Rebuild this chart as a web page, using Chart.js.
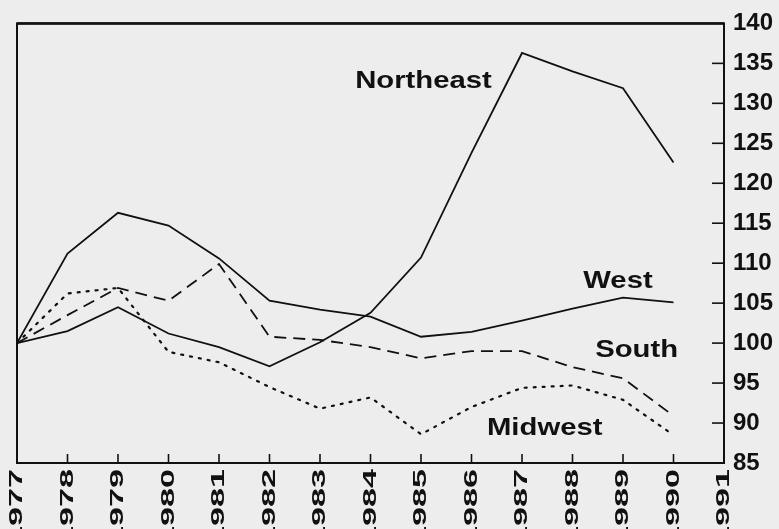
<!DOCTYPE html>
<html>
<head>
<meta charset="utf-8">
<script src="https://cdn.jsdelivr.net/npm/chart.js@4.4.1/dist/chart.umd.min.js"></script>
<style>
  html, body { margin: 0; padding: 0; background: #ededed; overflow: hidden; }
  #c { display: block; }
</style>
</head>
<body>
<canvas id="c" width="779" height="529"></canvas>
<script>
// ---- data ----
const years = [1977, 1978, 1979, 1980, 1981, 1982, 1983, 1984, 1985, 1986, 1987, 1988, 1989, 1990];
const northeast = [100, 101.5, 104.5, 101.2, 99.5, 97.1, 100.1, 103.8, 110.7, 123.8, 136.3, 134.0, 131.9, 122.6];
const west      = [100, 111.2, 116.3, 114.7, 110.6, 105.3, 104.2, 103.3, 100.8, 101.4, 102.8, 104.3, 105.7, 105.1];
const south     = [100, 103.5, 106.9, 105.3, 109.9, 100.8, 100.4, 99.5, 98.1, 99.0, 99.0, 97.0, 95.6, 90.9];
const midwest   = [100, 106.2, 106.9, 98.9, 97.6, 94.5, 91.8, 93.2, 88.6, 92.0, 94.4, 94.7, 92.9, 88.5];
const seriesNames = ["Northeast", "West", "South", "Midwest"];
const xMin = 1977, xMax = 1991;
const yMin = 85, yMax = 140, yStep = 5;
// label anchor points (data coordinates)
const labelYears  = [1985.05, 1988.9, 1989.27, 1987.45];
const labelValues = [131.9, 106.9, 98.2, 88.5];

const pts = arr => arr.map((v, i) => ({ x: years[i], y: v }));

const INK = '#111';

const frame = {
  id: 'frame',
  afterDatasetsDraw(chart) {
    const { ctx, chartArea: a, scales: { x, y } } = chart;
    ctx.save();
    ctx.strokeStyle = INK;
    ctx.lineCap = 'butt';
    // box
    ctx.lineWidth = 2;
    ctx.strokeRect(a.left, a.top, a.right - a.left, a.bottom - a.top);
    ctx.lineWidth = 2.5;
    ctx.beginPath(); ctx.moveTo(a.left, a.top); ctx.lineTo(a.right, a.top); ctx.stroke();
    // inner ticks
    ctx.lineWidth = 1.6;
    x.ticks.forEach(t => {
      if (t.value <= xMin || t.value >= xMax) return;
      const px = x.getPixelForValue(t.value);
      ctx.beginPath(); ctx.moveTo(px, a.bottom); ctx.lineTo(px, a.bottom - 9); ctx.stroke();
    });
    y.ticks.forEach(t => {
      if (t.value <= yMin || t.value >= yMax) return;
      const py = y.getPixelForValue(t.value);
      ctx.beginPath(); ctx.moveTo(a.right, py); ctx.lineTo(a.right - 12, py); ctx.stroke();
    });
    // x tick labels (rotated, elongated like the reference)
    ctx.fillStyle = INK;
    ctx.font = 'bold 19px "Liberation Sans", Arial, sans-serif';
    ctx.textAlign = 'right';
    ctx.textBaseline = 'middle';
    x.ticks.forEach(t => {
      const px = x.getPixelForValue(t.value);
      ctx.save();
      ctx.translate(px, a.bottom + 6);
      ctx.rotate(-Math.PI / 2);
      ctx.scale(1.8, 1);
      ctx.fillText(String(t.value), 0, 0);
      ctx.restore();
    });
    // series labels
    ctx.font = 'bold 24px "Liberation Sans", Arial, sans-serif';
    ctx.textAlign = 'center';
    ctx.textBaseline = 'alphabetic';
    seriesNames.forEach((name, i) => {
      const px = x.getPixelForValue(labelYears[i]);
      const py = y.getPixelForValue(labelValues[i]);
      ctx.save();
      ctx.translate(px, py);
      ctx.scale(1.22, 1);
      ctx.fillText(name, 0, 0);
      ctx.restore();
    });
    ctx.restore();
  }
};

const bg = {
  id: 'bg',
  beforeDraw(chart) {
    const { ctx, width, height } = chart;
    ctx.save();
    ctx.fillStyle = '#ededed';
    ctx.fillRect(0, 0, width, height);
    ctx.restore();
  }
};

new Chart(document.getElementById('c'), {
  type: 'line',
  data: {
    datasets: [
      { label: seriesNames[0], data: pts(northeast), borderColor: INK, borderWidth: 1.8 },
      { label: seriesNames[1], data: pts(west), borderColor: INK, borderWidth: 1.8 },
      { label: seriesNames[2], data: pts(south), borderColor: INK, borderWidth: 1.8, borderDash: [12, 7] },
      { label: seriesNames[3], data: pts(midwest), borderColor: INK, borderWidth: 2.2, borderDash: [2, 7], borderCapStyle: 'round' }
    ]
  },
  options: {
    responsive: false,
    animation: false,
    layout: { padding: { top: 22, left: 17, right: 0, bottom: 0 } },
    elements: { point: { radius: 0 }, line: { tension: 0 } },
    plugins: { legend: { display: false }, tooltip: { enabled: false } },
    scales: {
      x: {
        type: 'linear', min: xMin, max: xMax,
        grid: { display: false, drawTicks: false },
        border: { display: false },
        ticks: { stepSize: 1, display: false },
        afterFit: s => { s.height = 66; }
      },
      y: {
        position: 'right', min: yMin, max: yMax,
        grid: { display: false, drawTicks: false },
        border: { display: false },
        ticks: {
          stepSize: yStep, padding: 9, color: INK,
          font: { family: '"Liberation Sans", Arial, sans-serif', size: 24, weight: 'bold' }
        },
        afterFit: s => { s.width = 55; }
      }
    }
  },
  plugins: [bg, frame]
});
</script>
</body>
</html>
